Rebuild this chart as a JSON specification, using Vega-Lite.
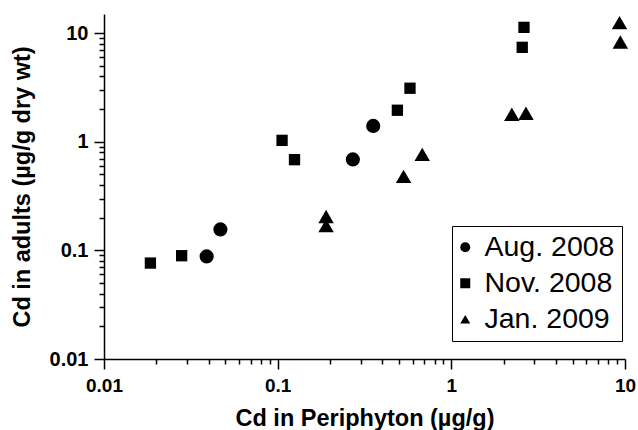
{
  "$schema": "https://vega.github.io/schema/vega-lite/v6.json",
  "width": 521,
  "height": 345,
  "autosize": {"type": "none"},
  "padding": {"left": 104, "top": 14, "right": 13, "bottom": 71},
  "background": "white",
  "config": {
    "view": {"stroke": null},
    "font": "Liberation Sans",
    "axis": {
      "grid": false,
      "domainColor": "black",
      "domainWidth": 1.5,
      "tickColor": "black",
      "tickWidth": 1.5,
      "tickOpacity": 1,
      "labelFont": "Liberation Sans",
      "labelFontWeight": "bold",
      "labelColor": "black",
      "labelOverlap": false,
      "labelFlush": false,
      "titleFont": "Liberation Sans",
      "titleFontSize": 23.5,
      "titleFontWeight": "bold",
      "titleColor": "black"
    }
  },
  "data": {
    "values": [
      {"date": "Aug. 2008", "periphyton": 0.039, "adults": 0.088},
      {"date": "Aug. 2008", "periphyton": 0.0468, "adults": 0.156},
      {"date": "Aug. 2008", "periphyton": 0.271, "adults": 0.688},
      {"date": "Aug. 2008", "periphyton": 0.355, "adults": 1.40},
      {"date": "Nov. 2008", "periphyton": 0.0185, "adults": 0.0764},
      {"date": "Nov. 2008", "periphyton": 0.028, "adults": 0.0893},
      {"date": "Nov. 2008", "periphyton": 0.106, "adults": 1.03},
      {"date": "Nov. 2008", "periphyton": 0.125, "adults": 0.684},
      {"date": "Nov. 2008", "periphyton": 0.489, "adults": 1.95},
      {"date": "Nov. 2008", "periphyton": 0.578, "adults": 3.11},
      {"date": "Nov. 2008", "periphyton": 2.56, "adults": 7.4},
      {"date": "Nov. 2008", "periphyton": 2.62, "adults": 11.3},
      {"date": "Jan. 2009", "periphyton": 0.19, "adults": 0.205},
      {"date": "Jan. 2009", "periphyton": 0.19, "adults": 0.169},
      {"date": "Jan. 2009", "periphyton": 0.531, "adults": 0.48},
      {"date": "Jan. 2009", "periphyton": 0.68, "adults": 0.765},
      {"date": "Jan. 2009", "periphyton": 2.23, "adults": 1.79},
      {"date": "Jan. 2009", "periphyton": 2.69, "adults": 1.83},
      {"date": "Jan. 2009", "periphyton": 9.3, "adults": 12.5},
      {"date": "Jan. 2009", "periphyton": 9.4, "adults": 8.3}
    ]
  },
  "resolve": {"axis": {"x": "independent", "y": "independent"}},
  "layer": [
    {
      "transform": [{"filter": "datum.date === 'Aug. 2008'"}],
      "mark": {"type": "point", "filled": true, "opacity": 1, "color": "black", "strokeWidth": 0, "size": 200},
      "encoding": {
        "x": {
          "field": "periphyton",
          "type": "quantitative",
          "scale": {"type": "log", "domain": [0.01, 10], "nice": false},
          "axis": {
            "orient": "bottom",
            "zindex": 1,
            "values": [0.01, 0.1, 1, 10],
            "format": "~g",
            "ticks": true,
            "tickSize": 10,
            "tickColor": "black",
            "tickWidth": 1.5,
            "tickOpacity": 1,
            "labelFlush": false,
            "labelFontSize": 19,
            "labelPadding": 7,
            "title": "Cd in Periphyton (µg/g)",
            "titlePadding": 11
          }
        },
        "y": {
          "field": "adults",
          "type": "quantitative",
          "scale": {"type": "log", "domain": [0.01, 15], "nice": false},
          "axis": {
            "orient": "left",
            "zindex": 1,
            "values": [0.01, 0.1, 1, 10],
            "format": "~g",
            "ticks": true,
            "tickSize": 10,
            "tickColor": "black",
            "tickWidth": 1.5,
            "tickOpacity": 1,
            "labelFlush": false,
            "labelFontSize": 20,
            "labelPadding": 6,
            "title": "Cd in adults (µg/g dry wt)",
            "titlePadding": 15
          }
        },
        "shape": {
          "field": "date",
          "type": "nominal",
          "scale": {"domain": ["Aug. 2008", "Nov. 2008", "Jan. 2009"], "range": ["circle", "square", "triangle-up"]},
          "legend": {
            "title": null,
            "orient": "none",
            "legendX": 348,
            "legendY": 212,
            "strokeColor": "black",
            "fillColor": "white",
            "padding": 7,
            "symbolSize": 100,
            "symbolOffset": -8,
            "symbolFillColor": "black",
            "symbolStrokeColor": "black",
            "symbolStrokeWidth": 0,
            "labelFont": "Liberation Sans",
            "labelFontSize": 28.5,
            "labelColor": "black",
            "labelOffset": 5,
            "rowPadding": 7,
            "labelLimit": 300
          }
        }
      }
    },
    {
      "transform": [{"filter": "datum.date === 'Nov. 2008'"}],
      "mark": {"type": "point", "filled": true, "opacity": 1, "color": "black", "strokeWidth": 0, "size": 128},
      "encoding": {
        "x": {
          "field": "periphyton",
          "type": "quantitative",
          "axis": {
            "orient": "bottom",
            "zindex": 1,
            "values": [0.02, 0.03, 0.04, 0.05, 0.06, 0.07, 0.08, 0.09, 0.2, 0.3, 0.4, 0.5, 0.6, 0.7, 0.8, 0.9, 2, 3, 4, 5, 6, 7, 8, 9],
            "ticks": true,
            "tickSize": 5,
            "tickColor": "black",
            "tickWidth": 1.5,
            "tickOpacity": 1,
            "labels": false,
            "domain": false,
            "title": null
          }
        },
        "y": {
          "field": "adults",
          "type": "quantitative",
          "axis": {
            "orient": "left",
            "zindex": 1,
            "values": [0.02, 0.03, 0.04, 0.05, 0.06, 0.07, 0.08, 0.09, 0.2, 0.3, 0.4, 0.5, 0.6, 0.7, 0.8, 0.9, 2, 3, 4, 5, 6, 7, 8, 9],
            "ticks": true,
            "tickSize": 5,
            "tickColor": "black",
            "tickWidth": 1.5,
            "tickOpacity": 1,
            "labels": false,
            "domain": false,
            "title": null
          }
        },
        "shape": {"field": "date", "type": "nominal"}
      }
    },
    {
      "transform": [{"filter": "datum.date === 'Jan. 2009'"}],
      "mark": {"type": "point", "filled": true, "opacity": 1, "color": "black", "strokeWidth": 0, "size": 240},
      "encoding": {
        "x": {"field": "periphyton", "type": "quantitative", "axis": null},
        "y": {"field": "adults", "type": "quantitative", "axis": null},
        "shape": {"field": "date", "type": "nominal"}
      }
    }
  ]
}
